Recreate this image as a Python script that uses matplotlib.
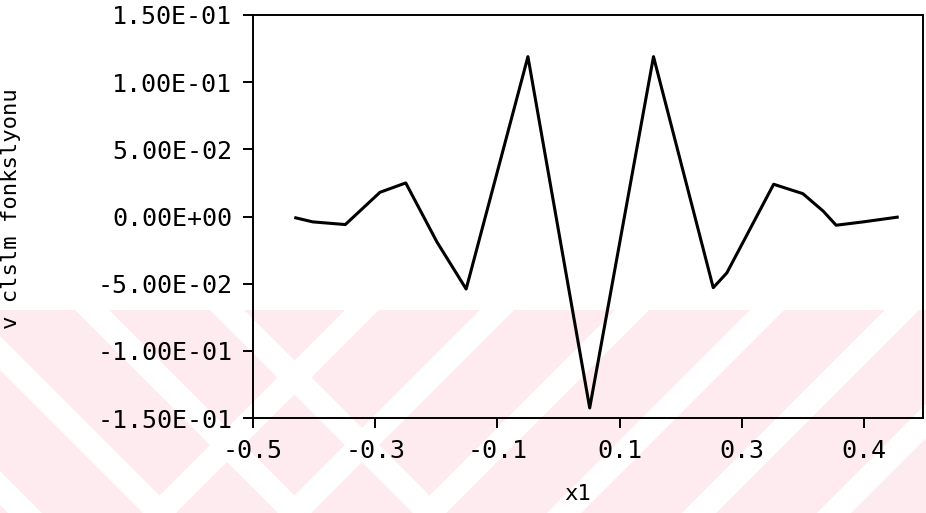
import numpy as np
import matplotlib
matplotlib.use("Agg")
import matplotlib.pyplot as plt
from matplotlib.patches import Polygon, Rectangle

# data
x1 = [-0.387, -0.362, -0.314, -0.263, -0.225, -0.179, -0.136, -0.045,
      0.046, 0.140, 0.228, 0.248, 0.317, 0.360, 0.390, 0.409, 0.449, 0.499]
v = [-0.001, -0.004, -0.006, 0.018, 0.025, -0.019, -0.054, 0.119,
     -0.1425, 0.119, -0.053, -0.042, 0.024, 0.017, 0.004, -0.0065, -0.004, -0.0005]

xtick_pos = [-0.45, -0.27, -0.09, 0.09, 0.27, 0.45]
xtick_lab = ["-0.5", "-0.3", "-0.1", "0.1", "0.3", "0.4"]
ytick_pos = [0.15, 0.10, 0.05, 0.0, -0.05, -0.10, -0.15]
ytick_lab = ["1.50E-01", "1.00E-01", "5.00E-02", "0.00E+00",
             "-5.00E-02", "-1.00E-01", "-1.50E-01"]

W, H = 926, 513
fig = plt.figure(figsize=(W / 100, H / 100), dpi=100)

# background watermark (pink diagonal stripes), pixel coords
bg = fig.add_axes([0, 0, 1, 1], zorder=-1)
bg.set_xlim(0, W)
bg.set_ylim(H, 0)
bg.axis("off")
pink = "#fdebef"
top = 310
bg.add_patch(Rectangle((0, top), W, H - top, color=pink, lw=0))
period, gap = 135, 34
# "\" stripes on the far left, "/" stripes across the rest
for s in range(-600, 1400, period):
    if s < 230:
        pts = [(s, top), (s + gap, top), (s + gap + 300, top + 300), (s + 300, top + 300)]
    else:
        pts = [(s, top), (s + gap, top), (s + gap - 300, top + 300), (s - 300, top + 300)]
    bg.add_patch(Polygon(pts, closed=True, color="white", lw=0))

ax = fig.add_axes([253 / W, 1 - 418 / H, (923 - 253) / W, (418 - 15) / H])
ax.set_facecolor("none")
ax.plot(x1, v, color="black", lw=2.2)

ax.set_xlim(-0.45, 0.537)
ax.set_ylim(-0.15, 0.15)
ax.set_xticks(xtick_pos)
ax.set_xticklabels(xtick_lab)
ax.set_yticks(ytick_pos)
ax.set_yticklabels(ytick_lab)

mono = "DejaVu Sans Mono"
for lab in ax.get_xticklabels() + ax.get_yticklabels():
    lab.set_family(mono)
    lab.set_fontsize(18)
ax.tick_params(direction="out", length=7, width=1.4, pad=8)
for sp in ax.spines.values():
    sp.set_linewidth(1.4)

ax.set_xlabel("x1", family=mono, fontsize=16)
ax.xaxis.set_label_coords(0.485, -0.165)
ax.set_ylabel("v clslm fonkslyonu", family=mono, fontsize=16)
ax.yaxis.set_label_coords(-0.346, 0.52)

fig.savefig("out.png", dpi=100)
